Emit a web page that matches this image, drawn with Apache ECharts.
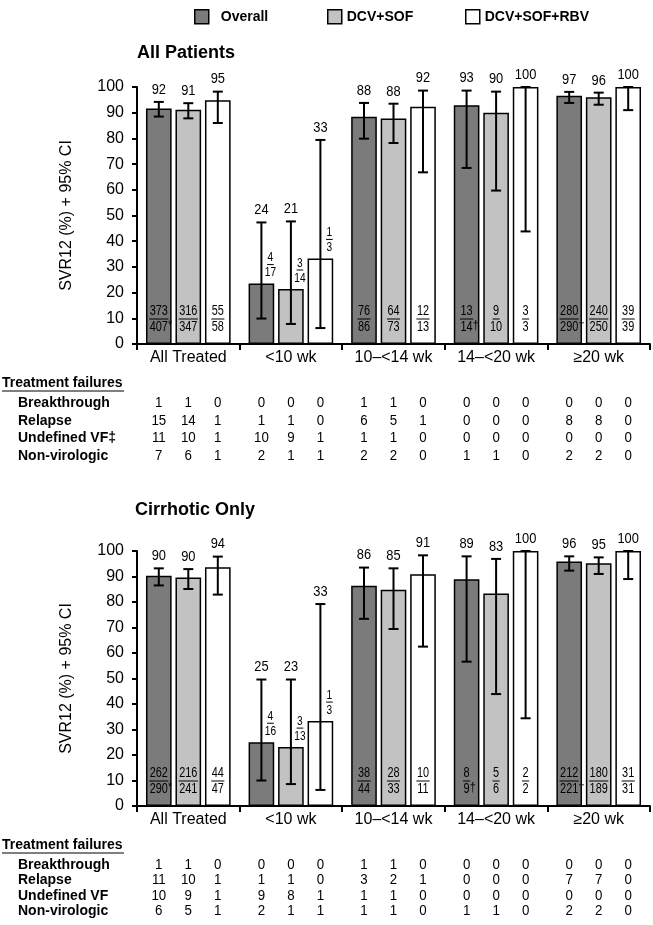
<!DOCTYPE html>
<html><head><meta charset="utf-8">
<script src="https://cdn.jsdelivr.net/npm/echarts@6/dist/echarts.min.js"></script>
<style>html,body{margin:0;padding:0;background:#fff}#c{width:653px;height:925px}</style>
</head><body><div id="c"></div>
<script>
// ---------- DATA ----------
const categories = ['All Treated', '<10 wk', '10–<14 wk', '14–<20 wk', '≥20 wk'];
const seriesNames = ['Overall', 'DCV+SOF', 'DCV+SOF+RBV'];

// All Patients: SVR12 (%) bar heights
const allOverall   = [91.6, 23.5, 88.4, 92.9, 96.6];
const allDcvSof    = [91.1, 21.4, 87.7, 90.0, 96.0];
const allDcvSofRbv = [94.8, 33.3, 92.3, 100, 100];
// printed labels
const allOverallLabel   = [92, 24, 88, 93, 97];
const allDcvSofLabel    = [91, 21, 88, 90, 96];
const allDcvSofRbvLabel = [95, 33, 92, 100, 100];
// 95% CI low / high
const allOverallLow   = [88.5, 9.9, 79.9, 68.5, 93.8];
const allOverallHigh  = [94.2, 47.3, 93.8, 98.6, 98.1];
const allDcvSofLow    = [87.8, 7.8, 78.2, 59.7, 93.1];
const allDcvSofHigh   = [93.7, 47.7, 93.5, 98.2, 97.8];
const allDcvSofRbvLow = [86.0, 6.2, 66.8, 43.8, 91.0];
const allDcvSofRbvHigh= [98.2, 79.4, 98.6, 100, 100];
// n/N
const allOverallNum   = ['373', '4', '76', '13', '280'];
const allOverallDen   = ['407*', '17', '86', '14†', '290†'];
const allDcvSofNum    = ['316', '3', '64', '9', '240'];
const allDcvSofDen    = ['347', '14', '73', '10', '250'];
const allDcvSofRbvNum = ['55', '1', '12', '3', '39'];
const allDcvSofRbvDen = ['58', '3', '13', '3', '39'];

// Cirrhotic Only
const cirOverall   = [90.3, 25.0, 86.4, 88.9, 95.9];
const cirDcvSof    = [89.6, 23.1, 84.8, 83.3, 95.2];
const cirDcvSofRbv = [93.6, 33.3, 90.9, 100, 100];
const cirOverallLabel   = [90, 25, 86, 89, 96];
const cirDcvSofLabel    = [90, 23, 85, 83, 95];
const cirDcvSofRbvLabel = [94, 33, 91, 100, 100];
const cirOverallLow   = [86.5, 10.0, 73.4, 56.6, 92.3];
const cirOverallHigh  = [93.2, 49.6, 93.5, 97.9, 97.9];
const cirDcvSofLow    = [85.1, 8.6, 69.4, 43.9, 91.0];
const cirDcvSofHigh   = [92.9, 49.6, 93.2, 96.9, 97.5];
const cirDcvSofRbvLow = [82.9, 6.3, 62.5, 34.4, 89.0];
const cirDcvSofRbvHigh= [97.8, 79.2, 98.3, 100, 100];
const cirOverallNum   = ['262', '4', '38', '8', '212'];
const cirOverallDen   = ['290*', '16', '44', '9†', '221†'];
const cirDcvSofNum    = ['216', '3', '28', '5', '180'];
const cirDcvSofDen    = ['241', '13', '33', '6', '189'];
const cirDcvSofRbvNum = ['44', '1', '10', '2', '31'];
const cirDcvSofRbvDen = ['47', '3', '11', '2', '31'];

// Treatment failures (per category: Overall, DCV+SOF, DCV+SOF+RBV)
const failureHeader = 'Treatment failures';
const allFailureRows = ['Breakthrough', 'Relapse', 'Undefined VF‡', 'Non-virologic'];
const allBreakthrough = [1,1,0, 0,0,0, 1,1,0, 0,0,0, 0,0,0];
const allRelapse      = [15,14,1, 1,1,0, 6,5,1, 0,0,0, 8,8,0];
const allUndefinedVF  = [11,10,1, 10,9,1, 1,1,0, 0,0,0, 0,0,0];
const allNonVirologic = [7,6,1, 2,1,1, 2,2,0, 1,1,0, 2,2,0];
const cirFailureRows = ['Breakthrough', 'Relapse', 'Undefined VF', 'Non-virologic'];
const cirBreakthrough = [1,1,0, 0,0,0, 1,1,0, 0,0,0, 0,0,0];
const cirRelapse      = [11,10,1, 1,1,0, 3,2,1, 0,0,0, 7,7,0];
const cirUndefinedVF  = [10,9,1, 9,8,1, 1,1,0, 0,0,0, 0,0,0];
const cirNonVirologic = [6,5,1, 2,1,1, 1,1,0, 1,1,0, 2,2,0];

const yTicks = { min: 0, max: 100, interval: 10 };

// ---------- STYLE / LAYOUT ----------
const FONT = '"Liberation Sans", Arial, Helvetica, sans-serif';
const fills = ['#7b7b7b', '#c2c2c2', '#ffffff'];
const BAR_W = 0.25, BAR_GAP = 0.15;
const grids = [
  { left: 137, top: 87, width: 513, height: 257 },
  { left: 137, top: 551, width: 513, height: 255 }
];
const rowSpacing = [17.7, 15.4];

function barOffset(api, s) {
  const cw = api.size([1, 0])[0];
  const bw = cw * BAR_W;
  return (s - 1) * (bw * (1 + BAR_GAP));
}

function errorRender(params, api) {
  const c = api.value(0), s = api.value(1), lo = api.value(2), hi = api.value(3), lab = api.value(4);
  const cx = api.coord([c, 0])[0] + barOffset(api, s);
  const yh = api.coord([c, hi])[1], yl = api.coord([c, lo])[1];
  const st = { stroke: '#000', lineWidth: 2 };
  return { type: 'group', children: [
    { type: 'line', shape: { x1: cx, y1: yh, x2: cx, y2: yl }, style: st },
    { type: 'line', shape: { x1: cx - 5, y1: yh, x2: cx + 5, y2: yh }, style: st },
    { type: 'line', shape: { x1: cx - 5, y1: yl, x2: cx + 5, y2: yl }, style: st },
    { type: 'text', x: cx, y: yh - 5, scaleX: 0.92,
      style: { text: String(lab), x: 0, y: 0, align: 'center', verticalAlign: 'bottom',
               textAlign: 'center', textVerticalAlign: 'bottom', font: '14px ' + FONT, fill: '#000' } }
  ]};
}

function fractionRender(nums, dens) {
  return function (params, api) {
    const c = api.value(0), s = api.value(1), v = api.value(2);
    const num = nums[s][c], den = dens[s][c];
    const cx0 = api.coord([c, 0])[0] + barOffset(api, s);
    const y0 = api.coord([c, 0])[1];
    const yTop = api.coord([c, v])[1];
    let cx, ly, fs;
    if (v < 50) { cx = cx0 + 9; ly = yTop - 19; fs = 13; }
    else { cx = cx0; ly = y0 - 25; fs = 14; }
    const sx = 0.78;
    const dw = fs * 0.556 * sx;
    const nw = num.length * dw;
    const digits = den.replace(/[^0-9]/g, '');
    const mark = den.slice(digits.length);
    const denW = digits.length * dw;
    const children = [
      { type: 'text', x: cx, y: ly - 0.5, scaleX: sx,
        style: { text: num, x: 0, y: 0, align: 'center', verticalAlign: 'bottom', textAlign: 'center', textVerticalAlign: 'bottom', font: fs + 'px ' + FONT, fill: '#000' } },
      { type: 'line', shape: { x1: cx - nw / 2 - 0.5, y1: ly, x2: cx + nw / 2 + 0.5, y2: ly }, style: { stroke: '#000', lineWidth: 1 } },
      { type: 'text', x: cx, y: ly + 1.5, scaleX: sx,
        style: { text: digits, x: 0, y: 0, align: 'center', verticalAlign: 'top', textAlign: 'center', textVerticalAlign: 'top', font: fs + 'px ' + FONT, fill: '#000' } }
    ];
    if (mark) {
      children.push({ type: 'text', x: cx + denW / 2 + 0.2, y: ly + 1, scaleX: 0.9,
        style: { text: mark, x: 0, y: 0, align: 'left', verticalAlign: 'top', textAlign: 'left', textVerticalAlign: 'top', font: (fs - 2) + 'px ' + FONT, fill: '#000' } });
    }
    return { type: 'group', children: children };
  };
}

function tableRender(spacing) {
  return function (params, api) {
    const c = api.value(0), s = api.value(1), r = api.value(2), val = api.value(3);
    const cx = api.coord([c, 0])[0] + barOffset(api, s);
    const y = api.coord([c, 0])[1] + 59 + r * spacing;
    return { type: 'text', x: cx, y: y, scaleX: 0.95,
      style: { text: String(val), x: 0, y: 0, align: 'center', verticalAlign: 'middle', textAlign: 'center', textVerticalAlign: 'middle', font: '14px ' + FONT, fill: '#000' } };
  };
}

function buildPanel(gi, bars, labels, lows, highs, nums, dens, rows) {
  const out = [];
  for (let s = 0; s < 3; s++) {
    out.push({
      type: 'bar', name: seriesNames[s], xAxisIndex: gi, yAxisIndex: gi,
      data: bars[s], barWidth: (BAR_W * 100) + '%', barGap: (BAR_GAP * 100) + '%',
      itemStyle: { color: fills[s], borderColor: '#000', borderWidth: 1.5 },
      silent: true, z: 2
    });
  }
  const errData = [], fracData = [], tabData = [];
  for (let c = 0; c < categories.length; c++) {
    for (let s = 0; s < 3; s++) {
      errData.push([c, s, lows[s][c], highs[s][c], labels[s][c]]);
      fracData.push([c, s, bars[s][c]]);
      for (let r = 0; r < rows.length; r++) tabData.push([c, s, r, rows[r][c * 3 + s]]);
    }
  }
  out.push({ type: 'custom', xAxisIndex: gi, yAxisIndex: gi, renderItem: errorRender, data: errData, clip: false, z: 5, silent: true });
  out.push({ type: 'custom', xAxisIndex: gi, yAxisIndex: gi, renderItem: fractionRender(nums, dens), data: fracData, clip: false, z: 6, silent: true });
  out.push({ type: 'custom', xAxisIndex: gi, yAxisIndex: gi, renderItem: tableRender(rowSpacing[gi]), data: tabData, clip: false, z: 6, silent: true });
  return out;
}

const series = [].concat(
  buildPanel(0,
    [allOverall, allDcvSof, allDcvSofRbv],
    [allOverallLabel, allDcvSofLabel, allDcvSofRbvLabel],
    [allOverallLow, allDcvSofLow, allDcvSofRbvLow],
    [allOverallHigh, allDcvSofHigh, allDcvSofRbvHigh],
    [allOverallNum, allDcvSofNum, allDcvSofRbvNum],
    [allOverallDen, allDcvSofDen, allDcvSofRbvDen],
    [allBreakthrough, allRelapse, allUndefinedVF, allNonVirologic]),
  buildPanel(1,
    [cirOverall, cirDcvSof, cirDcvSofRbv],
    [cirOverallLabel, cirDcvSofLabel, cirDcvSofRbvLabel],
    [cirOverallLow, cirDcvSofLow, cirDcvSofRbvLow],
    [cirOverallHigh, cirDcvSofHigh, cirDcvSofRbvHigh],
    [cirOverallNum, cirDcvSofNum, cirDcvSofRbvNum],
    [cirOverallDen, cirDcvSofDen, cirDcvSofRbvDen],
    [cirBreakthrough, cirRelapse, cirUndefinedVF, cirNonVirologic])
);

const axisLine = { show: true, lineStyle: { color: '#000', width: 2 } };
const xAxes = grids.map((g, i) => ({
  type: 'category', gridIndex: i, data: categories,
  axisLine: axisLine,
  axisTick: { show: true, alignWithLabel: false, length: 6, lineStyle: { color: '#000', width: 2 } },
  axisLabel: { fontSize: 16, fontFamily: FONT, color: '#000', margin: 6, interval: 0 },
  splitLine: { show: false }
}));
const yAxes = grids.map((g, i) => ({
  type: 'value', gridIndex: i, min: yTicks.min, max: yTicks.max, interval: yTicks.interval,
  name: 'SVR12 (%) + 95% CI', nameLocation: 'middle', nameGap: 62, nameRotate: 90,
  nameTextStyle: { fontSize: 16, fontFamily: FONT, color: '#000' },
  axisLine: axisLine,
  axisTick: { show: true, length: 5, lineStyle: { color: '#000', width: 2 } },
  axisLabel: { fontSize: 16, fontFamily: FONT, color: '#000', margin: 13 },
  splitLine: { show: false }
}));

// graphic texts: titles and table row headings
const graphic = [];
const titles = ['All Patients', 'Cirrhotic Only'];
const titleY = [53, 510];
const titleX = [137, 135];
const rowSets = [allFailureRows, cirFailureRows];
titles.forEach((t, i) => {
  graphic.push({ type: 'text', x: titleX[i], y: titleY[i],
    style: { text: t, x: 0, y: 0, font: 'bold 18px ' + FONT, fill: '#000', align: 'left', verticalAlign: 'middle', textAlign: 'left', textVerticalAlign: 'middle' } });
  const axisY = grids[i].top + grids[i].height;
  graphic.push({ type: 'text', x: 2, y: axisY + 39,
    style: { text: failureHeader, x: 0, y: 0, font: 'bold 14px ' + FONT, fill: '#000', align: 'left', verticalAlign: 'middle', textAlign: 'left', textVerticalAlign: 'middle' } });
  graphic.push({ type: 'line', shape: { x1: 2, y1: axisY + 47, x2: 124, y2: axisY + 47 }, style: { stroke: '#000', lineWidth: 1.2 } });
  rowSets[i].forEach((r, k) => {
    graphic.push({ type: 'text', x: 18, y: axisY + 59 + k * rowSpacing[i],
      style: { text: r, x: 0, y: 0, font: 'bold 14px ' + FONT, fill: '#000', align: 'left', verticalAlign: 'middle', textAlign: 'left', textVerticalAlign: 'middle' } });
  });
});

const legendBase = {
  top: 4, itemWidth: 14, itemHeight: 14, icon: 'rect', selectedMode: false,
  itemStyle: { borderColor: '#000', borderWidth: 1.5 },
  textStyle: { fontSize: 14, fontWeight: 'bold', fontFamily: FONT, color: '#000' }
};
const legends = [
  Object.assign({}, legendBase, { data: ['Overall'], left: 189, textStyle: Object.assign({}, legendBase.textStyle, { padding: [0, 0, 0, 7] }) }),
  Object.assign({}, legendBase, { data: ['DCV+SOF'], left: 322 }),
  Object.assign({}, legendBase, { data: ['DCV+SOF+RBV'], left: 460 })
];

const chart = echarts.init(document.getElementById('c'), null, { renderer: 'canvas' });
chart.setOption({
  backgroundColor: '#fff',
  animation: false,
  textStyle: { fontFamily: FONT },
  grid: grids.map(g => Object.assign({ outerBoundsMode: 'none', containLabel: false }, g)),
  legend: legends,
  xAxis: xAxes,
  yAxis: yAxes,
  graphic: graphic,
  series: series
});
</script>
</body></html>
